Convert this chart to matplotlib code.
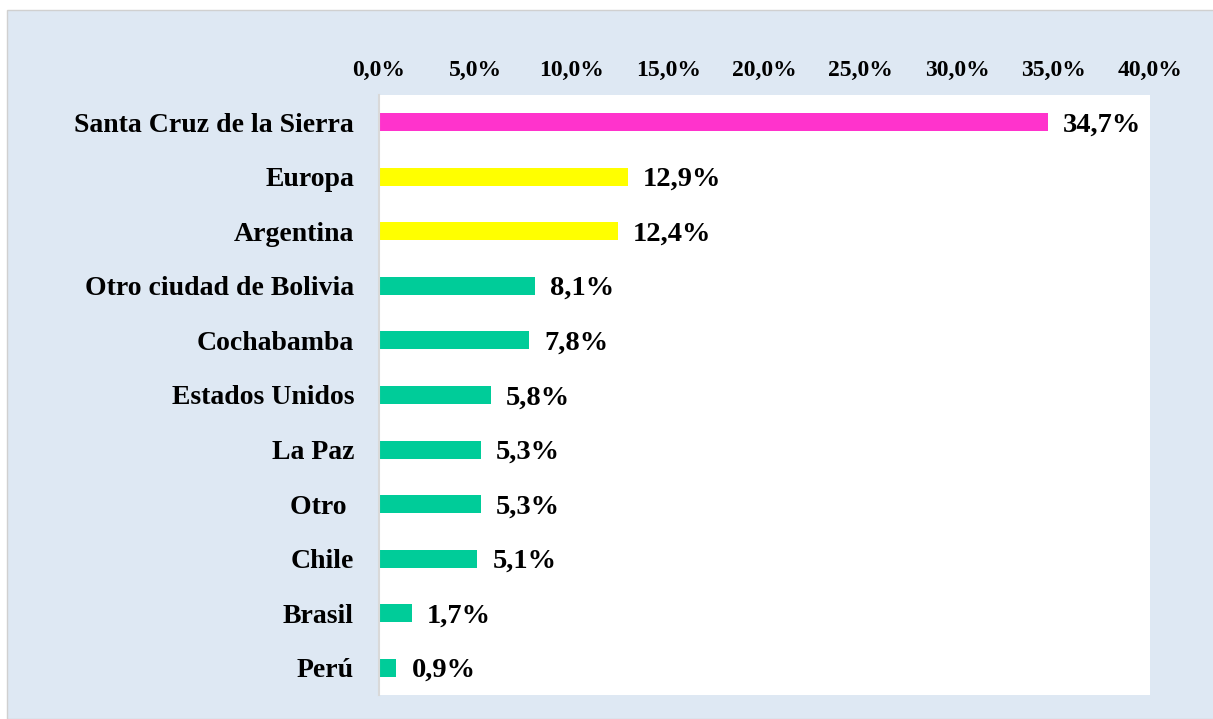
import matplotlib.pyplot as plt
from matplotlib.patches import Rectangle

# Data (top to bottom as shown)
categories = ["Santa Cruz de la Sierra", "Europa", "Argentina", "Otro ciudad de Bolivia",
              "Cochabamba", "Estados Unidos", "La Paz", "Otro ", "Chile", "Brasil", "Perú"]
values = [34.7, 12.9, 12.4, 8.1, 7.8, 5.8, 5.3, 5.3, 5.1, 1.7, 0.9]
bar_colors = ["#FF33CC", "#FFFF00", "#FFFF00"] + ["#00CC99"] * 8
ticks = [0, 5, 10, 15, 20, 25, 30, 35, 40]

plt.rcParams['font.family'] = ['Liberation Serif', 'DejaVu Serif']
plt.rcParams['font.weight'] = 'bold'

fig = plt.figure(figsize=(12.13, 7.19), dpi=100)
fig.patch.set_facecolor("white")
# light blue chart area with thin grey border
fig.patches.append(Rectangle((7 / 1213, 0), 1.0, 1 - 10 / 719, transform=fig.transFigure,
                             facecolor="#DEE8F3", edgecolor="#D0D0D0", linewidth=1, zorder=-10))

ax = fig.add_axes([379 / 1213, 1 - 695 / 719, (1150 - 379) / 1213, 600 / 719])
ax.set_zorder(5)
ax.set_facecolor("white")

y = list(range(len(categories)))
ax.barh(y, values, height=0.33, color=bar_colors)
ax.set_ylim(len(categories) - 0.5, -0.5)
ax.set_xlim(0, 40)

ax.set_yticks(y)
ax.set_yticklabels(categories, fontsize=20, fontweight="bold")
ax.set_xticks(ticks)
ax.set_xticklabels([f"{t:.1f}%".replace(".", ",") for t in ticks], fontsize=17, fontweight="bold")
ax.xaxis.tick_top()
ax.tick_params(axis="x", length=0, pad=10)
ax.tick_params(axis="y", length=0, pad=18)

for s in ["top", "right", "bottom"]:
    ax.spines[s].set_visible(False)
ax.spines["left"].set_color("#D9D9D9")
ax.spines["left"].set_linewidth(1.5)

for i, v in enumerate(values):
    ax.text(v + 0.78, i + 0.05, f"{v:.1f}%".replace(".", ","), va="center", ha="left",
            fontsize=20.5, fontweight="bold")

fig.savefig("out.png", dpi=100, facecolor=fig.get_facecolor())
